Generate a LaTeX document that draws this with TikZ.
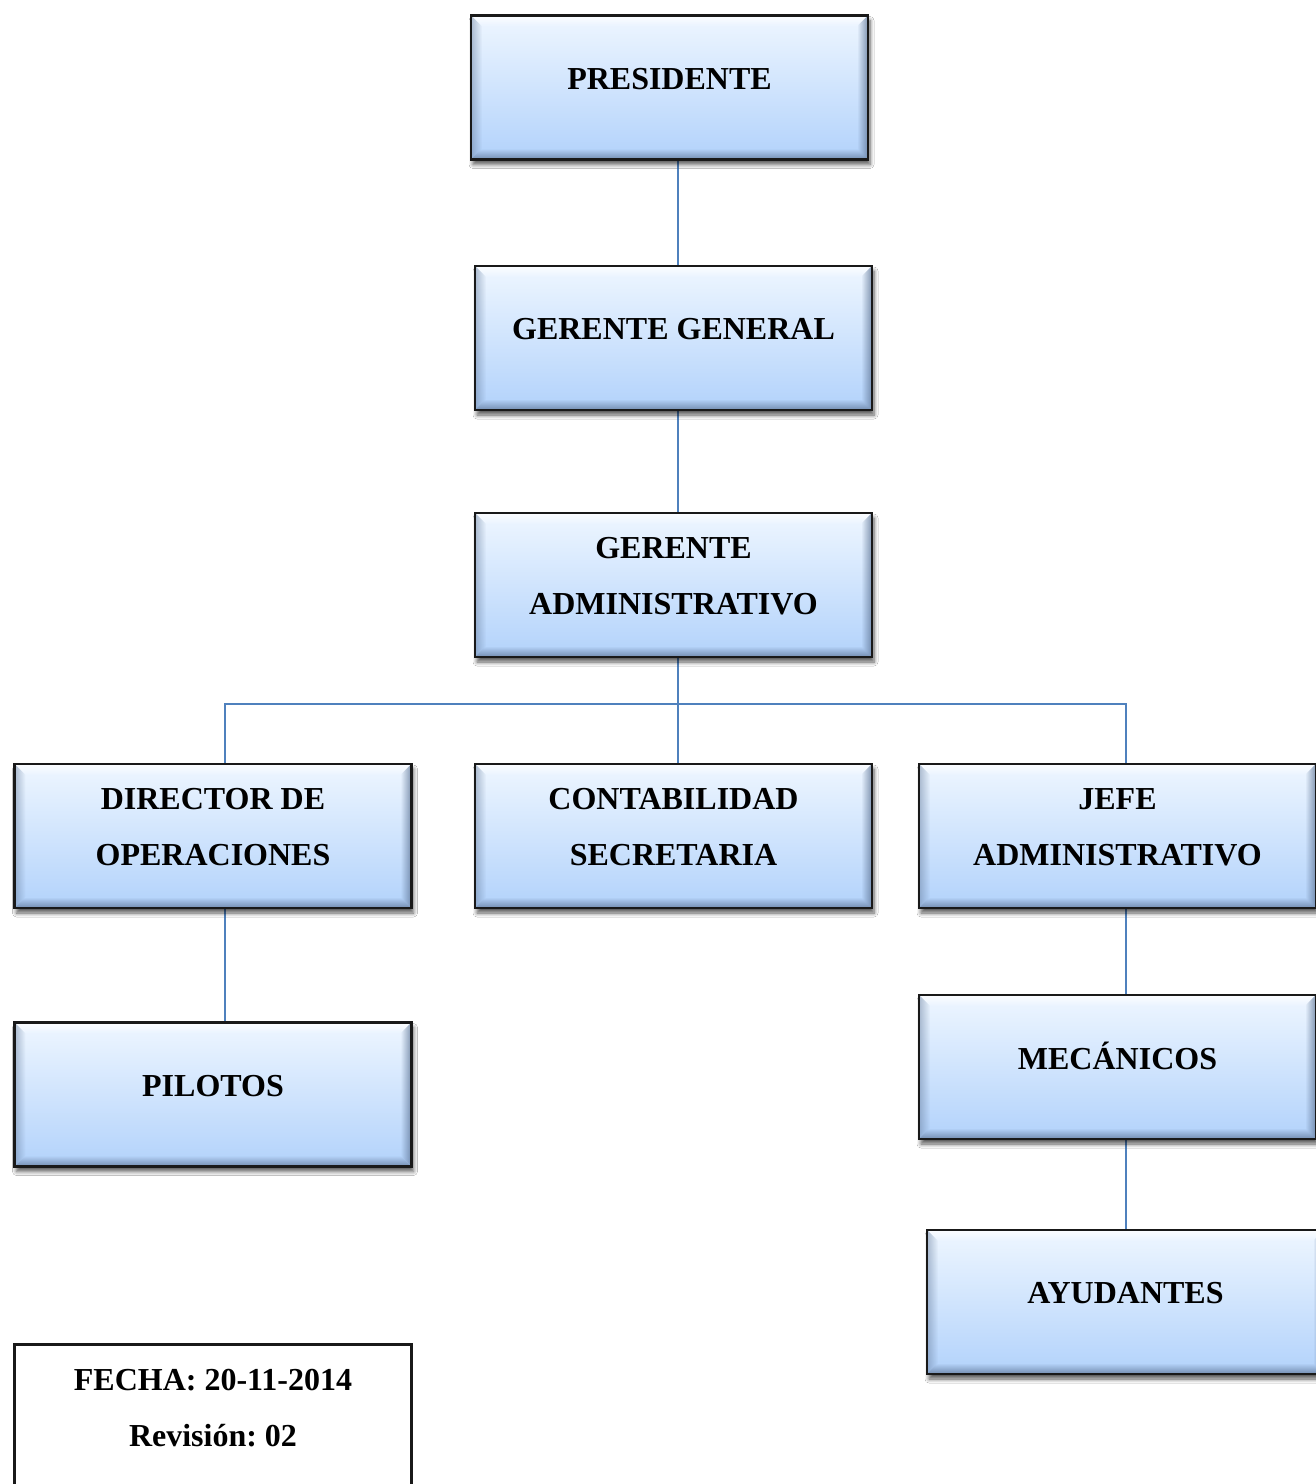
\documentclass[tikz,border=0pt]{standalone}
\usepackage{fontspec}
\setmainfont{Liberation Serif}
\usetikzlibrary{shadows.blur,fadings,backgrounds}
\frenchspacing
\definecolor{topc}{HTML}{EEF6FF}
\definecolor{botc}{HTML}{B2D2FB}
\definecolor{bevD}{HTML}{5E7596}
\definecolor{lnc}{HTML}{4F81BD}
\tikzfading[name=fadeR, left color=transparent!0, right color=transparent!100]
\tikzfading[name=fadeL, left color=transparent!100, right color=transparent!0]
\tikzfading[name=fadeU, bottom color=transparent!0, top color=transparent!100]
\tikzfading[name=fadeD, top color=transparent!0, bottom color=transparent!100]
\tikzset{
  bevel/.style={path picture={
    \path (path picture bounding box.south west) coordinate (bsw)
          (path picture bounding box.north east) coordinate (bne);
    \fill[white, opacity=.8, path fading=fadeD]
      (bsw|-bne) -- (bne) -- ([shift={(-11pt,-11pt)}]bne) -- ([shift={(11pt,-11pt)}]bsw|-bne) -- cycle;
    \fill[bevD, opacity=.45, path fading=fadeR]
      (bsw) -- (bsw|-bne) -- ([shift={(11pt,-11pt)}]bsw|-bne) -- ([shift={(11pt,11pt)}]bsw) -- cycle;
    \fill[bevD, opacity=.75, path fading=fadeL]
      (bne|-bsw) -- (bne) -- ([shift={(-11pt,-11pt)}]bne) -- ([shift={(-11pt,11pt)}]bne|-bsw) -- cycle;
    \fill[bevD, opacity=.75, path fading=fadeU]
      (bsw) -- (bne|-bsw) -- ([shift={(-11pt,11pt)}]bne|-bsw) -- ([shift={(11pt,11pt)}]bsw) -- cycle;
  }},
  orgbox/.style={draw=black!90, line width=2.5pt, top color=topc, bottom color=botc,
    minimum width=397pt, minimum height=144pt, inner sep=0pt, align=center,
    font=\bfseries\fontsize{32}{56}\selectfont, text depth=18pt,
    blur shadow={shadow xshift=2pt, shadow yshift=-5pt, shadow blur radius=4pt,
      shadow blur steps=6, shadow opacity=65},
    bevel},
  datebox/.style={draw=black!90, line width=2.5pt, fill=white,
    minimum width=397pt, inner xsep=0pt, inner ysep=25pt, align=center,
    font=\bfseries\fontsize{32}{56}\selectfont, text depth=40pt},
  conn/.style={draw=lnc, line width=1.8pt}
}
\begin{document}
\begin{tikzpicture}[x=1pt,y=-1pt]
\useasboundingbox (0,0) rectangle (1316,1484);

\node[orgbox] (pres) at (669.5,87.5) {PRESIDENTE};
\node[orgbox] (gg)   at (673.5,338)  {GERENTE GENERAL};
\node[orgbox] (ga)   at (673.5,585)  {GERENTE\\ADMINISTRATIVO};
\node[orgbox] (dir)  at (213,836)    {DIRECTOR DE\\OPERACIONES};
\node[orgbox] (cont) at (673.5,836)  {CONTABILIDAD\\SECRETARIA};
\node[orgbox] (jefe) at (1117.5,836) {JEFE\\ADMINISTRATIVO};
\node[orgbox] (pil)  at (213,1094.5) {PILOTOS};
\node[orgbox, text height=22pt] (mec) at (1117.5,1067) {MECÁNICOS};
\node[orgbox] (ayu)  at (1125.5,1302) {AYUDANTES};
\node[datebox, anchor=north] (fecha) at (213,1343) {FECHA: 20-11-2014\\Revisión: 02};

\coordinate (trunk) at (678,0);
\coordinate (lx1) at (225,704);
\coordinate (lx3) at (1126,704);

\begin{pgfonlayer}{background}
\fill[white] (0,0) rectangle (1316,1484);
\draw[conn] (trunk|-pres.south) -- (trunk|-gg.north);
\draw[conn] (trunk|-gg.south) -- (trunk|-ga.north);
\draw[conn] (trunk|-ga.south) -- (trunk|-cont.north);
\draw[conn] (lx1|-dir.north) -- (lx1) -- (lx3) -- (lx3|-jefe.north);
\draw[conn] (lx1|-dir.south) -- (lx1|-pil.north);
\draw[conn] (lx3|-jefe.south) -- (lx3|-mec.north);
\draw[conn] (lx3|-mec.south) -- (lx3|-ayu.north);
\end{pgfonlayer}
\end{tikzpicture}
\end{document}
